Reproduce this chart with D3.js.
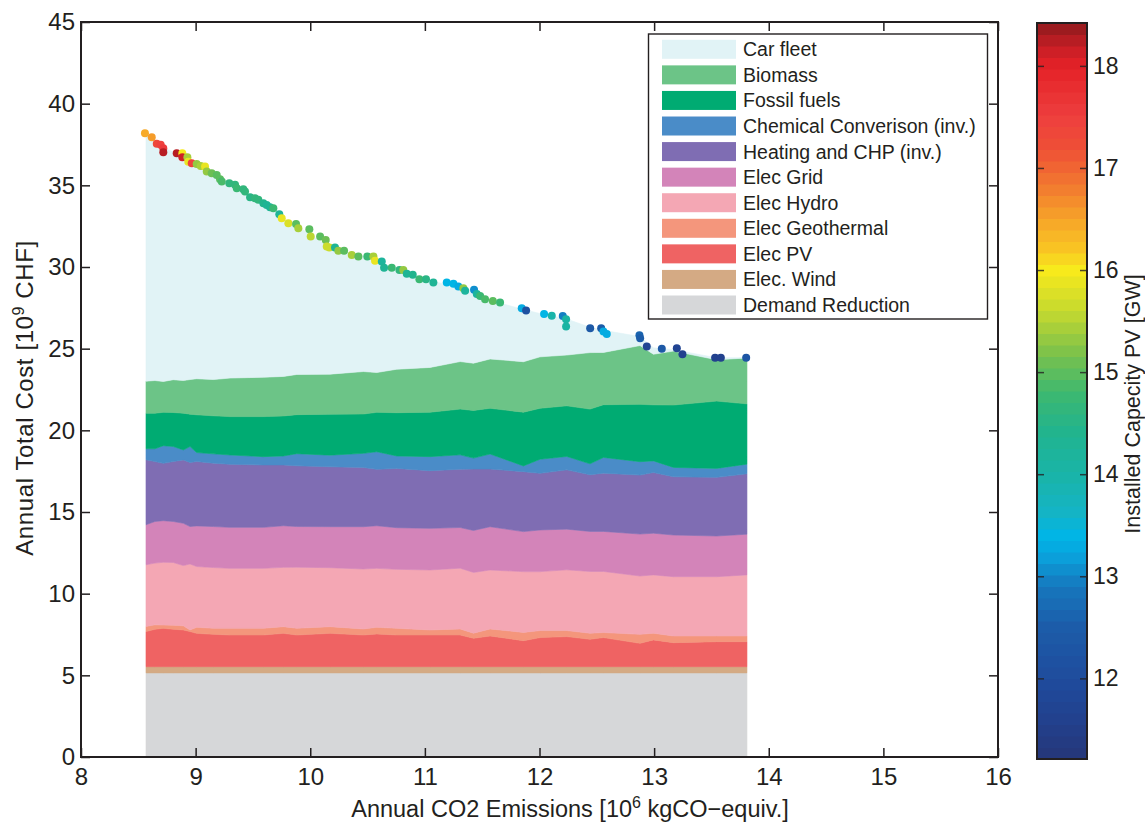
<!DOCTYPE html>
<html>
<head>
<meta charset="utf-8">
<script src="https://cdn.jsdelivr.net/npm/d3@7"></script>
<style>
  body { margin: 0; background: #fff; }
  svg { font-family: "Liberation Sans", Arial, Helvetica, sans-serif; }
</style>
</head>
<body>
<div id="chart"></div>
<script>
// ---- data ----
// stacked cost components, one value per emission sample, 10^9 CHF
const emissions = [8.567, 8.645, 8.718, 8.805, 8.893, 8.951, 9.009, 9.155, 9.300, 9.591, 9.766, 9.882, 10.173, 10.464, 10.580,
    10.754, 11.045, 11.308, 11.424, 11.569, 11.860, 12.005, 12.238, 12.441, 12.558, 12.877, 12.994, 13.168, 13.546, 13.810];
const demandReduction = [5.15, 5.15, 5.15, 5.15, 5.15, 5.15, 5.15, 5.15, 5.15, 5.15, 5.15, 5.15, 5.15, 5.15, 5.15,
    5.15, 5.15, 5.15, 5.15, 5.15, 5.15, 5.15, 5.15, 5.15, 5.15, 5.15, 5.15, 5.15, 5.15, 5.15];
const elecWind = [0.38, 0.38, 0.38, 0.38, 0.38, 0.38, 0.38, 0.38, 0.38, 0.38, 0.38, 0.38, 0.38, 0.38, 0.38,
    0.38, 0.38, 0.38, 0.38, 0.38, 0.38, 0.38, 0.38, 0.38, 0.38, 0.38, 0.38, 0.38, 0.38, 0.38];
const elecPV = [2.15, 2.29, 2.35, 2.29, 2.25, 2.15, 2.04, 1.98, 1.94, 1.94, 2.04, 1.94, 2.04, 1.94, 2.00,
    1.94, 1.94, 1.94, 1.74, 1.88, 1.59, 1.78, 1.84, 1.68, 1.78, 1.43, 1.64, 1.47, 1.53, 1.53];
const elecGeothermal = [0.31, 0.27, 0.20, 0.25, 0.25, 0.10, 0.37, 0.37, 0.41, 0.41, 0.41, 0.41, 0.41, 0.37, 0.41,
    0.41, 0.31, 0.37, 0.31, 0.43, 0.51, 0.43, 0.37, 0.37, 0.31, 0.55, 0.41, 0.41, 0.35, 0.35];
const elecHydro = [3.78, 3.78, 3.84, 3.84, 3.69, 4.04, 3.72, 3.72, 3.67, 3.67, 3.63, 3.74, 3.61, 3.67, 3.61,
    3.61, 3.67, 3.72, 3.72, 3.61, 3.72, 3.61, 3.72, 3.78, 3.74, 3.57, 3.57, 3.63, 3.63, 3.74];
const elecGrid = [2.45, 2.55, 2.55, 2.51, 2.59, 2.29, 2.49, 2.51, 2.51, 2.51, 2.55, 2.49, 2.51, 2.59, 2.61,
    2.55, 2.55, 2.49, 2.57, 2.65, 2.45, 2.55, 2.49, 2.45, 2.45, 2.57, 2.55, 2.55, 2.49, 2.49];
const heatingCHP = [3.98, 3.67, 3.51, 3.67, 3.88, 3.92, 3.94, 3.88, 3.86, 3.82, 3.72, 3.72, 3.67, 3.63, 3.45,
    3.63, 3.53, 3.57, 3.76, 3.53, 3.67, 3.47, 3.63, 3.47, 3.57, 3.61, 3.72, 3.57, 3.59, 3.70];
const chemConversion = [0.67, 0.78, 1.08, 0.92, 0.61, 0.98, 0.55, 0.57, 0.57, 0.51, 0.55, 0.74, 0.71, 0.86, 1.08,
    0.76, 0.86, 0.88, 0.67, 0.92, 0.35, 0.86, 0.82, 0.67, 0.96, 0.82, 0.71, 0.57, 0.55, 0.59];
const fossilFuels = [2.18, 2.18, 2.04, 2.08, 2.25, 1.98, 2.31, 2.33, 2.35, 2.45, 2.45, 2.39, 2.51, 2.41, 2.41,
    2.65, 2.72, 2.80, 2.92, 2.80, 3.29, 3.12, 3.10, 3.35, 3.23, 3.51, 3.43, 3.82, 4.12, 3.69];
const biomass = [1.96, 2.00, 1.89, 2.01, 2.00, 2.12, 2.21, 2.22, 2.36, 2.41, 2.42, 2.46, 2.45, 2.60, 2.44,
    2.66, 2.74, 2.91, 2.89, 3.02, 3.09, 3.15, 3.11, 3.46, 3.20, 3.60, 3.10, 3.30, 2.53, 2.81];
const carFleet = [15.15, 14.75, 14.30, 13.95, 13.75, 13.40, 13.15, 12.60, 11.90, 10.65, 9.65, 9.10, 7.75, 7.05, 6.80,
    6.15, 5.30, 4.55, 4.45, 3.58, 3.20, 2.65, 2.20, 1.55, 1.35, 0.55, 0.39, 0.09, 0.12, 0.02];

// pareto points: emissions, total cost, installed PV capacity (GW)
const pointEmissions = [8.558, 8.617, 8.661, 8.695, 8.718, 8.718, 8.835, 8.884, 8.884, 8.928, 8.936, 8.966, 9.009, 9.044, 9.082,
    9.097, 9.140, 9.184, 9.213, 9.228, 9.294, 9.344, 9.359, 9.416, 9.431, 9.475, 9.518, 9.547, 9.591, 9.620,
    9.649, 9.678, 9.730, 9.751, 9.809, 9.876, 9.896, 9.992, 10.004, 10.086, 10.135, 10.144, 10.167, 10.216, 10.245,
    10.295, 10.362, 10.420, 10.498, 10.551, 10.565, 10.624, 10.644, 10.711, 10.778, 10.812, 10.842, 10.894, 10.952, 11.010,
    11.074, 11.191, 11.249, 11.292, 11.336, 11.351, 11.429, 11.453, 11.482, 11.525, 11.593, 11.656, 11.845, 11.883, 12.040,
    12.107, 12.203, 12.232, 12.232, 12.442, 12.538, 12.558, 12.587, 12.872, 12.878, 12.936, 13.067, 13.198, 13.247, 13.532,
    13.582, 13.803];
const pointCost = [38.19, 37.95, 37.54, 37.48, 37.27, 37.03, 36.97, 36.97, 36.72, 36.72, 36.45, 36.35, 36.31, 36.19, 36.15,
    35.84, 35.74, 35.64, 35.37, 35.23, 35.13, 35.03, 34.82, 34.76, 34.62, 34.27, 34.21, 34.11, 33.91, 33.80,
    33.66, 33.60, 33.23, 32.99, 32.68, 32.64, 32.37, 32.31, 31.86, 31.86, 31.66, 31.25, 31.19, 31.19, 30.99,
    30.99, 30.74, 30.64, 30.64, 30.64, 30.39, 30.33, 29.96, 29.96, 29.82, 29.82, 29.58, 29.52, 29.25, 29.25,
    29.05, 29.05, 28.97, 28.80, 28.70, 28.55, 28.60, 28.35, 28.23, 28.03, 27.92, 27.82, 27.47, 27.33, 27.13,
    27.02, 27.00, 26.80, 26.35, 26.25, 26.25, 26.05, 25.90, 25.82, 25.64, 25.13, 25.00, 25.02, 24.66, 24.45,
    24.45, 24.45];
const pointPV = [16.5, 16.6, 17.4, 17.5, 17.6, 18.2, 18.3, 16.0, 18.1, 15.4, 15.9, 17.5, 15.3, 15.4, 15.9,
    15.3, 15.1, 15.0, 15.0, 14.9, 14.6, 14.7, 14.8, 14.6, 14.7, 14.5, 14.6, 14.7, 14.4, 14.3,
    14.3, 14.8, 14.3, 15.9, 15.8, 15.0, 15.4, 15.0, 15.5, 15.0, 15.1, 15.7, 15.7, 14.3, 15.3,
    15.0, 15.4, 15.0, 14.8, 15.4, 15.9, 14.2, 14.3, 14.8, 14.7, 15.3, 14.3, 14.4, 14.8, 14.5,
    14.3, 13.4, 13.4, 13.3, 15.3, 14.2, 13.1, 14.2, 14.8, 14.9, 15.0, 14.8, 13.3, 12.2, 13.4,
    14.0, 13.0, 14.1, 14.1, 12.4, 12.5, 13.3, 13.3, 12.6, 12.5, 11.7, 12.4, 11.7, 11.6, 11.6,
    11.6, 12.3];

// legend / series
const seriesKeys = ["demand", "wind", "pv", "geo", "hydro", "grid", "heating", "chem", "fossil", "biomass", "car"];
const seriesNames = ["Demand Reduction", "Elec. Wind", "Elec PV", "Elec Geothermal", "Elec Hydro", "Elec Grid",
    "Heating and CHP (inv.)", "Chemical Converison (inv.)", "Fossil fuels", "Biomass", "Car fleet"];
const seriesColors = ["#d6d7d9", "#d4aa84", "#ef6363", "#f4967c", "#f4a7b4", "#d384b9",
    "#7f6db3", "#4a8cc8", "#00ab72", "#6cc487", "#e1f3f6"];

const xTicks = [8, 9, 10, 11, 12, 13, 14, 15, 16];
const yTicks = [0, 5, 10, 15, 20, 25, 30, 35, 40, 45];
const cbarTicks = [12, 13, 14, 15, 16, 17, 18];

// colour map stops for the PV colour bar (64 discrete steps)
const cmapValues = [11.21, 11.6, 12.0, 12.5, 12.9, 13.2, 13.4, 13.6, 14.0, 14.4, 14.8, 15.2, 15.6, 16.0, 16.2, 16.5, 16.8, 17.2, 17.5, 18.0, 18.2, 18.42];
const cmapColors = ["#263779", "#22418e", "#1f4c9d", "#1c5ca9", "#1677bd", "#0aa2dc", "#00b5e6", "#13b4c8", "#1ab4a8", "#20b48f",
    "#3db870", "#7ec24a", "#c5d92f", "#f7ea1c", "#f9c623", "#f6a429", "#f27c2f", "#ee4f36", "#ee3f3e", "#e42127", "#c41e25", "#8e1a1d"];

// ---- layout ----
const W = 1145, H = 824;
const plot = { left: 81, right: 998, top: 22, bottom: 757 };
const cbar = { left: 1037, right: 1087, top: 23, bottom: 759 };
const ink = "#231f20";

const svg = d3.select("#chart").append("svg")
    .attr("width", W)
    .attr("height", H);

const x = d3.scaleLinear().domain([8, 16]).range([plot.left, plot.right]);
const y = d3.scaleLinear().domain([0, 45]).range([plot.bottom, plot.top]);

// discrete colormap
const nColors = 64;
const cLo = cmapValues[0], cHi = cmapValues[cmapValues.length - 1];
const cmapLinear = d3.scaleLinear().domain(cmapValues).range(cmapColors).interpolate(d3.interpolateRgb);
const binColor = v => {
    let k = Math.floor((v - cLo) / (cHi - cLo) * nColors);
    k = Math.max(0, Math.min(nColors - 1, k));
    return cmapLinear(cLo + (k + 0.5) * (cHi - cLo) / nColors);
};

// ---- stacked areas ----
const seriesArrays = [demandReduction, elecWind, elecPV, elecGeothermal, elecHydro, elecGrid,
    heatingCHP, chemConversion, fossilFuels, biomass, carFleet];
const rows = emissions.map((e, i) => {
    const r = { e: e };
    seriesKeys.forEach((k, j) => { r[k] = seriesArrays[j][i]; });
    return r;
});

const stacked = d3.stack().keys(seriesKeys)(rows);

const area = d3.area()
    .x(d => x(d.data.e))
    .y0(d => y(d[0]))
    .y1(d => y(d[1]));

svg.append("g")
    .selectAll("path")
    .data(stacked)
    .join("path")
    .attr("d", area)
    .attr("fill", (d, i) => seriesColors[i])
    .attr("stroke", (d, i) => seriesColors[i])
    .attr("stroke-width", 0.6);

// ---- points ----
const points = pointEmissions.map((e, i) => ({ e: e, c: pointCost[i], pv: pointPV[i] }));
svg.append("g")
    .selectAll("circle")
    .data(points)
    .join("circle")
    .attr("cx", d => x(d.e))
    .attr("cy", d => y(d.c))
    .attr("r", 4)
    .attr("fill", d => binColor(d.pv));

// ---- axes (MATLAB style box, ticks inward) ----
const tickLen = 9;
const fontTick = 24;

const xAxis = svg.append("g")
    .attr("transform", `translate(0, ${plot.bottom})`)
    .call(d3.axisBottom(x).tickValues(xTicks).tickSizeInner(-tickLen).tickSizeOuter(0).tickPadding(11));
const xAxisTop = svg.append("g")
    .attr("transform", `translate(0, ${plot.top})`)
    .call(d3.axisTop(x).tickValues(xTicks).tickSizeInner(-tickLen).tickSizeOuter(0).tickFormat(""));
const yAxis = svg.append("g")
    .attr("transform", `translate(${plot.left}, 0)`)
    .call(d3.axisLeft(y).tickValues(yTicks).tickSizeInner(-tickLen).tickSizeOuter(0).tickPadding(6));
const yAxisRight = svg.append("g")
    .attr("transform", `translate(${plot.right}, 0)`)
    .call(d3.axisRight(y).tickValues(yTicks).tickSizeInner(-tickLen).tickSizeOuter(0).tickFormat(""));

[xAxis, xAxisTop, yAxis, yAxisRight].forEach(g => {
    g.select(".domain").remove();
    g.selectAll(".tick line").attr("stroke", ink).attr("stroke-width", 1.5);
    g.selectAll(".tick text")
        .attr("fill", ink)
        .style("font-size", fontTick + "px")
        .style("font-family", '"Liberation Sans", Arial, sans-serif');
});

svg.append("rect")
    .attr("x", plot.left)
    .attr("y", plot.top)
    .attr("width", plot.right - plot.left)
    .attr("height", plot.bottom - plot.top)
    .attr("fill", "none")
    .attr("stroke", ink)
    .attr("stroke-width", 2);

// axis titles
const xTitle = svg.append("text")
    .attr("x", 570)
    .attr("y", 817)
    .attr("text-anchor", "middle")
    .attr("fill", ink)
    .style("font-size", "23.5px");
xTitle.append("tspan").text("Annual CO2 Emissions [10");
xTitle.append("tspan").attr("dy", -9).style("font-size", "16px").text("6");
xTitle.append("tspan").attr("dy", 9).text(" kgCO\u2212equiv.]");

const yTitle = svg.append("text")
    .attr("transform", `translate(33, 398) rotate(-90)`)
    .attr("text-anchor", "middle")
    .attr("fill", ink)
    .style("font-size", "24px")
    .style("letter-spacing", "0.6px");
yTitle.append("tspan").text("Annual Total Cost [10");
yTitle.append("tspan").attr("dy", -9).style("font-size", "16px").text("9");
yTitle.append("tspan").attr("dy", 9).text(" CHF]");

// ---- legend ----
const legend = svg.append("g");
legend.append("rect")
    .attr("x", 648.5)
    .attr("y", 34)
    .attr("width", 339)
    .attr("height", 285)
    .attr("fill", "#fff")
    .attr("stroke", ink)
    .attr("stroke-width", 1.4);

const legendOrder = d3.range(seriesKeys.length).reverse();
const legendRows = legend.selectAll("g.row")
    .data(legendOrder)
    .join("g")
    .attr("class", "row")
    .attr("transform", (d, i) => `translate(0, ${49.3 + i * 25.57})`);

legendRows.append("rect")
    .attr("x", 662)
    .attr("y", -9.5)
    .attr("width", 74)
    .attr("height", 19)
    .attr("fill", d => seriesColors[d]);

legendRows.append("text")
    .attr("x", 743)
    .attr("dy", "0.36em")
    .attr("fill", ink)
    .style("font-size", "19.5px")
    .text(d => seriesNames[d]);

// ---- colour bar ----
const cY = d3.scaleLinear().domain([cLo, cHi]).range([cbar.bottom, cbar.top]);
const step = (cHi - cLo) / nColors;
svg.append("g")
    .selectAll("rect")
    .data(d3.range(nColors))
    .join("rect")
    .attr("x", cbar.left)
    .attr("width", cbar.right - cbar.left)
    .attr("y", k => cY(cLo + (k + 1) * step))
    .attr("height", k => cY(cLo + k * step) - cY(cLo + (k + 1) * step) + 0.5)
    .attr("fill", k => cmapLinear(cLo + (k + 0.5) * step));

const cAxis = svg.append("g")
    .attr("transform", `translate(${cbar.right}, 0)`)
    .call(d3.axisRight(cY).tickValues(cbarTicks).tickSizeInner(-7).tickSizeOuter(0).tickPadding(6));
const cAxisLeft = svg.append("g")
    .attr("transform", `translate(${cbar.left}, 0)`)
    .call(d3.axisLeft(cY).tickValues(cbarTicks).tickSizeInner(-7).tickSizeOuter(0).tickFormat(""));
[cAxis, cAxisLeft].forEach(g => {
    g.select(".domain").remove();
    g.selectAll(".tick line").attr("stroke", ink).attr("stroke-width", 1.5).attr("stroke-opacity", 0.8);
    g.selectAll(".tick text")
        .attr("fill", ink)
        .style("font-size", "23px")
        .style("font-family", '"Liberation Sans", Arial, sans-serif');
});

svg.append("rect")
    .attr("x", cbar.left)
    .attr("y", cbar.top)
    .attr("width", cbar.right - cbar.left)
    .attr("height", cbar.bottom - cbar.top)
    .attr("fill", "none")
    .attr("stroke", ink)
    .attr("stroke-width", 2);

svg.append("text")
    .attr("transform", `translate(1140, 404) rotate(-90)`)
    .attr("text-anchor", "middle")
    .attr("fill", ink)
    .style("font-size", "21.5px")
    .text("Installed Capecity PV [GW]");
</script>
</body>
</html>
